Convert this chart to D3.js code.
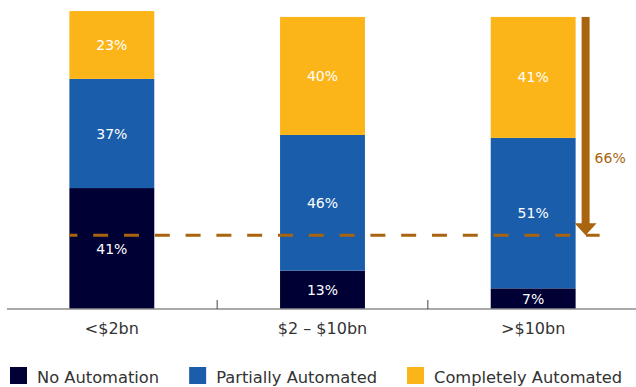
<!DOCTYPE html>
<html>
<head>
<meta charset="utf-8">
<script src="https://cdn.jsdelivr.net/npm/d3@7"></script>
<style>
  html, body { margin: 0; padding: 0; background: #fff; }
  svg { display: block; font-family: "DejaVu Sans", sans-serif; }
</style>
</head>
<body>
<svg id="chart" width="636" height="387"></svg>
<script>
// Automation level by company size (share of respondents, %)
const categories = ["<$2bn", "$2 – $10bn", ">$10bn"];
const seriesNames = ["No Automation", "Partially Automated", "Completely Automated"];
const noAutomation = [41, 13, 7];
const partiallyAutomated = [37, 46, 51];
const completelyAutomated = [23, 40, 41];
const referenceLevel = 25;          // dashed reference line
const arrowLabel = "66%";

const colors = ["#000035", "#1a5dab", "#fcb518"];
const accent = "#a8640f";

const svg = d3.select("#chart");
const W = 636;

const x = d3.scaleBand().domain(categories).range([6.5, 638.5]).padding(0);
const y = d3.scaleLinear().domain([0, 100]).range([309, 14]);
const barW = x.bandwidth() * 0.403;

const table = categories.map((c, i) => ({
  cat: c,
  values: [noAutomation[i], partiallyAutomated[i], completelyAutomated[i]]
}));
const stack = d3.stack().keys([0, 1, 2]).value((d, k) => d.values[k]);
const layers = stack(table);

// stacked bars with value labels
const g = svg.append("g");
layers.forEach((layer, k) => {
  const lg = g.append("g");
  lg.selectAll("rect").data(layer).join("rect")
    .attr("x", d => x(d.data.cat) + (x.bandwidth() - barW) / 2)
    .attr("width", barW)
    .attr("y", d => y(d[1]))
    .attr("height", d => y(d[0]) - y(d[1]))
    .attr("fill", colors[k]);
  lg.selectAll("text").data(layer).join("text")
    .attr("x", d => x(d.data.cat) + x.bandwidth() / 2)
    .attr("y", d => (y(d[0]) + y(d[1])) / 2)
    .attr("dy", "0.36em")
    .attr("text-anchor", "middle")
    .attr("fill", "#fff")
    .attr("font-size", 14)
    .text(d => d.data.values[k] + "%");
});

// baseline and category separators
const axisG = svg.append("g").attr("transform", `translate(0,${y(0)})`);
axisG.append("line")
  .attr("x1", 7).attr("x2", W).attr("y1", 0).attr("y2", 0)
  .attr("stroke", "#8c8c8c").attr("stroke-width", 1.3);
axisG.selectAll("line.sep").data(categories.slice(1)).join("line")
  .attr("class", "sep")
  .attr("x1", d => x(d)).attr("x2", d => x(d))
  .attr("y1", -9).attr("y2", 0)
  .attr("stroke", "#444").attr("stroke-width", 1);

const xAxis = d3.axisBottom(x).tickSize(0).tickPadding(14);
const xa = svg.append("g").attr("transform", `translate(0,${y(0)})`).call(xAxis);
xa.select(".domain").remove();
xa.selectAll("text")
  .attr("font-family", "DejaVu Sans, sans-serif")
  .attr("font-size", 16)
  .attr("fill", "#333");

// dashed reference line
const refY = y(referenceLevel);
const lastBar = categories[categories.length - 1];
const lastRight = x(lastBar) + (x.bandwidth() + barW) / 2;
svg.append("line")
  .attr("x1", x(categories[0]) + (x.bandwidth() - barW) / 2)
  .attr("x2", lastRight + 24)
  .attr("y1", refY).attr("y2", refY)
  .attr("stroke", accent).attr("stroke-width", 3)
  .attr("stroke-dasharray", "15,15.8")
  .attr("stroke-dashoffset", 7);

// arrow from the top of the last bar down to the reference line
const lastTotal = d3.sum(table[table.length - 1].values);
const ax = lastRight + 10;
const aTop = y(lastTotal);
const headH = 12, headW = 22, shaftW = 8;
svg.append("rect")
  .attr("x", ax - shaftW / 2).attr("width", shaftW)
  .attr("y", aTop).attr("height", refY - headH - aTop + 1)
  .attr("fill", accent);
svg.append("path")
  .attr("d", `M${ax - headW / 2},${refY - headH} L${ax + headW / 2},${refY - headH} L${ax},${refY} Z`)
  .attr("fill", accent);
svg.append("text")
  .attr("x", ax + 9)
  .attr("y", aTop + (refY - aTop) * 0.647)
  .attr("dy", "0.36em")
  .attr("fill", accent)
  .attr("font-size", 14)
  .text(arrowLabel);

// legend
const leg = svg.append("g");
let lx = 10;
seriesNames.forEach((name, k) => {
  leg.append("rect").attr("x", lx).attr("y", 367).attr("width", 17).attr("height", 17)
    .attr("fill", colors[k]);
  const t = leg.append("text").attr("x", lx + 27).attr("y", 383)
    .attr("font-size", 16.3).attr("fill", "#333").text(name);
  lx = lx + 27 + t.node().getComputedTextLength() + 30;
});
</script>
</body>
</html>
